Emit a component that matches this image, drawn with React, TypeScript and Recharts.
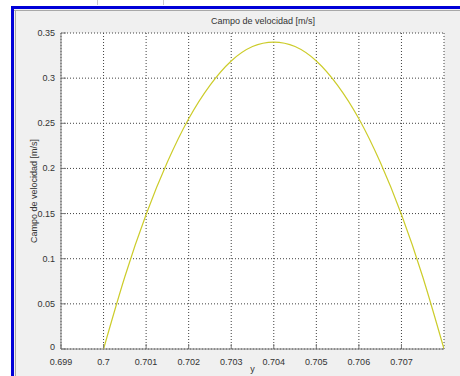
import { LineChart, Line, XAxis, YAxis, CartesianGrid } from "recharts";

// posición y, velocidad leída a lo largo del perfil
const posY = [
  0.7, 0.7005, 0.701, 0.7015, 0.702, 0.7025, 0.703, 0.7035, 0.704,
  0.7045, 0.705, 0.7055, 0.706, 0.7065, 0.707, 0.7075, 0.708,
];
const velocidad = [
  0, 0.08, 0.149, 0.207, 0.255, 0.292, 0.319, 0.335, 0.34,
  0.335, 0.319, 0.292, 0.255, 0.207, 0.149, 0.08, 0,
];
const xTicks = [0.699, 0.7, 0.701, 0.702, 0.703, 0.704, 0.705, 0.706, 0.707];
const yTicks = [0, 0.05, 0.1, 0.15, 0.2, 0.25, 0.3, 0.35];

const data = posY.map((y, i) => ({ y, v: velocidad[i] }));

const FONT = "'Liberation Sans', Arial, sans-serif";
const AXIS = "#7a7a7a";
const TXT = "#333";

// ticks hacia dentro, estilo Matlab
function XTick(props: any) {
  const { x, y, payload } = props;
  const base = y - 8;
  return (
    <g>
      <line x1={x} x2={x} y1={base - 1} y2={base - 5} stroke={AXIS} />
      <text x={x} y={y + 8} textAnchor="middle" fontSize={9} fontFamily={FONT} fill={TXT}>
        {payload.value}
      </text>
    </g>
  );
}

function YTick(props: any) {
  const { x, y, payload } = props;
  const base = x + 8;
  return (
    <g>
      <line x1={base + 1} x2={base + 5} y1={y} y2={y} stroke={AXIS} />
      <text x={x + 2} y={payload.value === 0 ? y + 1 : y + 3} textAnchor="end" fontSize={9} fontFamily={FONT} fill={TXT}>
        {payload.value}
      </text>
    </g>
  );
}

export default function App() {
  return (
    <div style={{ position: "fixed", left: 0, top: 0, width: 460, height: 376, background: "#fff", overflow: "hidden" }}>
      <div style={{ position: "absolute", left: 97, top: 0, width: 1, height: 5, background: "#ccc" }} />
      <div style={{ position: "absolute", left: 163, top: 0, width: 1, height: 5, background: "#ccc" }} />
      <div
        style={{
          position: "absolute",
          left: 11,
          top: 6,
          width: 449,
          height: 370,
          background: "#f0f0f0",
          borderLeft: "3px solid #0000d8",
          borderTop: "3px solid #0000d8",
          boxSizing: "border-box",
        }}
      >
        <div style={{ position: "absolute", left: 0, top: 1, right: 0, height: 1, background: "#a8a8a8" }} />
        <div style={{ position: "absolute", left: 1, top: 1, bottom: 0, width: 1, background: "#a8a8a8" }} />
      </div>
      <div style={{ position: "absolute", left: 0, top: 0 }}>
        <LineChart width={460} height={376} data={data} margin={{ top: 33, right: 16, bottom: 0, left: 0 }}>
          <CartesianGrid stroke="#404040" strokeDasharray="1 2" fill="#fff" />
          <XAxis
            dataKey="y"
            type="number"
            domain={[0.699, 0.708]}
            ticks={xTicks}
            height={27}
            axisLine={{ stroke: AXIS }}
            tickLine={false}
            tick={<XTick />}
            interval={0}
            allowDataOverflow
          />
          <XAxis
            xAxisId="top"
            orientation="top"
            type="number"
            dataKey="y"
            domain={[0.699, 0.708]}
            height={0}
            axisLine={{ stroke: AXIS }}
            tick={false}
            tickLine={false}
          />
          <YAxis
            type="number"
            domain={[0, 0.35]}
            ticks={yTicks}
            width={61}
            axisLine={{ stroke: AXIS }}
            tickLine={false}
            tick={<YTick />}
            interval={0}
          />
          <YAxis
            yAxisId="right"
            orientation="right"
            domain={[0, 0.35]}
            width={0}
            axisLine={{ stroke: AXIS }}
            tick={false}
            tickLine={false}
          />
          <Line
            type="natural"
            dataKey="v"
            stroke="#cccc2a"
            strokeWidth={1.2}
            dot={false}
            isAnimationActive={false}
          />
        </LineChart>
      </div>
      <div style={{ position: "absolute", left: 0, width: 460, top: 16, paddingLeft: 66, boxSizing: "border-box", textAlign: "center", fontFamily: FONT, fontSize: 9, color: TXT }}>
        Campo de velocidad [m/s]
      </div>
      <div style={{ position: "absolute", left: 61, width: 383, top: 364, textAlign: "center", fontFamily: FONT, fontSize: 9, color: TXT }}>
        y
      </div>
      <div
        style={{
          position: "absolute",
          left: 34,
          top: 191,
          transform: "translate(-50%, -50%) rotate(-90deg)",
          whiteSpace: "nowrap",
          fontFamily: FONT,
          fontSize: 9,
          color: TXT,
        }}
      >
        Campo de velocidad [m/s]
      </div>
    </div>
  );
}
